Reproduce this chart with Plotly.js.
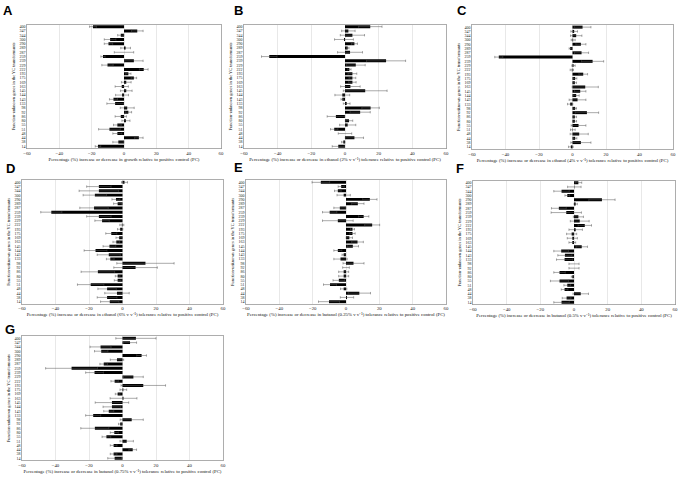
<!DOCTYPE html>
<html>
<head>
<meta charset="utf-8">
<script src="https://cdn.plot.ly/plotly-3.0.1.min.js"></script>
<style>
  html, body { margin: 0; padding: 0; background: #fff; }
  #plot { width: 683px; height: 479px; }
</style>
</head>
<body>
<div id="plot"></div>
<script>
// transformant ids, top to bottom
const categories = ['400','347','344','300','290','289','287','259','239','229','222','193','175','169','163','145','144','143','133','98','92','86','80','55','51','48','44','38','14'];

// A: growth
const valsA = [-19.2, 8.2, -2, -8.6, -9.6, 1, 0, -13, 6.1, -10.2, 12.2, 2.7, 6.1, 1.4, -1.4, 1.4, -1.2, -6.5, -5.5, 2, 2.7, -2, 1.2, -4.1, -9, -4.1, 9.2, -3.5, -16.1];
const errA  = [2.1, 3.6, 1.9, 3.6, 2.6, 3, 6, 1.3, 5.7, 3.5, 2.7, 1.6, 1.7, 3, 4.1, 3.6, 4, 2.5, 5.1, 4.3, 2, 3.5, 2.5, 2.4, 6.7, 2.8, 2.6, 3.4, 1.7];
// B: ethanol 2%
const valsB = [15, 2, 4.4, -0.6, 5.6, 1.6, 3, -45, 24.4, 6.4, 2.6, 4.4, 4.4, 4.4, 3.2, 12, -1.6, -1.6, 1, 15.2, 9, -5.4, 2.4, 1.6, -6.4, 0, 5.6, -1, -4];
const errB  = [7, 4, 7.2, 5.6, 1.8, 0.8, 7.4, 4.6, 11.6, 5.6, 1, 2.6, 2, 2.2, 5.8, 13, 4.4, 0.8, 2, 5.2, 6, 5.2, 2.2, 4.8, 2.2, 4, 5.4, 1, 3.6];
// C: ethanol 4%
const valsC = [6, 1, 2.2, 0.4, 5, -1.4, 5.4, -44, 12, 0.6, -0.4, 6.4, 1.6, 1.4, 7.6, 4.6, 2.2, 3, -1.4, 1.6, 8.6, 1.4, 1.4, 3.6, 0.2, 4, 1.6, 5, -1];
const errC  = [5, 2, 3.4, 1.2, 3, 0.6, 4.2, 2.4, 6.6, 1, 1, 2.6, 1, 1, 7.8, 3.4, 1.8, 5, 1.6, 0.8, 7, 1, 1, 4.4, 1.4, 5.4, 1, 6, 1.4];
// D: ethanol 6%
const valsD = [1.2, -14.1, -14.1, -16.5, -3.9, -2.9, -17, -42.5, -14.1, -12.2, -0.4, -1.4, -6.7, -2, -3.7, -7.8, -16.1, -8.2, -7.3, 13.7, 7.8, -14.7, -2.9, -2.9, -19, -9.2, -3.3, -9.2, -7.6];
const errD  = [1.8, 7.3, 11.8, 7, 2.4, 2.4, 8.5, 6.3, 7.3, 4.3, 1.2, 1.6, 3.3, 1.9, 2, 3.8, 6.8, 6.9, 2.3, 17.1, 13, 10, 1.4, 2, 7.9, 5.5, 7.3, 5.9, 5.5];
// E: butanol 0.25%
const valsE = [-15.1, -2.9, -4.9, -1.4, 14.3, 7.1, -3.7, -9.8, 10.6, -4.9, 15.7, 3.9, 3.9, 2, 6.9, 4.1, -4.9, -1.4, -3.3, 4.5, 0, -1.4, -1.4, -4.3, -9.6, -1.4, 8, 0.6, -10.2];
const errE  = [5.3, 1.8, 2, 4, 4.3, 3.7, 3.6, 4.3, 3.1, 9.2, 4.5, 1.2, 1.6, 1.9, 3.5, 3.4, 2.4, 1, 4, 6.3, 2, 3, 3, 3.5, 3.9, 1.9, 6.7, 4, 6.3];
// F: butanol 0.5%
const valsF = [2.6, 0.2, -7.4, -4, 16.6, 1, -9, -4.6, 2.6, 3.4, 6.4, 1, -1.4, -1, -1, 4.6, -7.6, -5.4, -5.6, 0, 0, -8.6, -1, -8.6, -4, -5.6, 4, -4.4, -7.4];
const errF  = [2, 4, 4.6, 1.4, 7.8, 1, 4.4, 9, 3, 5.6, 4, 4, 3, 3, 2, 3.4, 4.4, 4.2, 4.8, 3, 3, 3.4, 0.6, 5.4, 2, 2, 4.6, 2.6, 4.6];
// G: butanol 0.75%
const valsG = [8, 4.5, -13.1, -12.7, 11.4, -3.3, -11.2, -30.4, -16.7, 6.5, -4.7, 12.4, 0.5, -2.9, 0.6, -6.3, -6.3, -8.2, -17.5, 5.5, -1.4, -16.5, -4.9, -9.6, 2.5, -5.3, 6.1, -5.3, -4.7];
const errG  = [12, 3.9, 6.3, 4, 2.9, 4, 2.3, 15.5, 5.3, 5.9, 2.2, 13.3, 2, 1.4, 8, 10, 5.3, 3, 4.5, 6.9, 1, 8.4, 2.4, 2.6, 4, 2, 2.3, 2, 4.1];

const panelLetters = ['A', 'B', 'C', 'D', 'E', 'F', 'G'];
const xTitles = [
  'Percentage (%) increase or decrease in growth relative to positive control (PC)',
  'Percentage (%) increase or decrease in ethanol (2% v v⁻¹) tolerance relative to positive control (PC)',
  'Percentage (%) increase or decrease in ethanol (4% v v⁻¹) tolerance relative to positive control (PC)',
  'Percentage (%) increase or decrease in ethanol (6% v v⁻¹) tolerance relative to positive control (PC)',
  'Percentage (%) increase or decrease in butanol (0.25% v v⁻¹) tolerance relative to positive control (PC)',
  'Percentage (%) increase or decrease in butanol (0.5% v v⁻¹) tolerance relative to positive control (PC)',
  'Percentage (%) increase or decrease in butanol (0.75% v v⁻¹) tolerance relative to positive control (PC)'
];
const yTitle = 'Function-unknown genes in the YC transformants';

const series = [[valsA, errA], [valsB, errB], [valsC, errC], [valsD, errD], [valsE, errE], [valsF, errF], [valsG, errG]];

// plot boxes in pixels: [left, right, top, bottom]
const W = 683, H = 479;
const boxes = [
  [27, 221, 24.5, 148.5], [244, 446, 24.5, 148.5], [472, 673, 25, 149],
  [22, 223, 180.2, 303.8], [246, 446, 180.2, 303.8], [473, 675, 180.5, 304.5],
  [22, 223, 336.2, 460.4]
];
const letterPos = [[8, 10], [238, 10], [462, 10], [10, 168], [238, 167], [460, 168], [10, 329]];

const serif = 'Liberation Serif, Times New Roman, serif';
const data = [];
const layout = {
  width: W, height: H,
  margin: { l: 0, r: 0, t: 0, b: 0 },
  paper_bgcolor: '#fff', plot_bgcolor: '#fff',
  showlegend: false,
  bargap: 0.3,
  annotations: []
};

series.forEach((s, i) => {
  const n = i === 0 ? '' : String(i + 1);
  data.push({
    type: 'bar', orientation: 'h',
    x: s[0], y: categories,
    xaxis: 'x' + n, yaxis: 'y' + n,
    marker: { color: '#000' },
    error_x: { type: 'data', array: s[1], visible: true, color: '#555', thickness: 0.5, width: 1.2 }
  });
  const b = boxes[i];
  layout['xaxis' + n] = {
    domain: [b[0] / W, b[1] / W],
    anchor: 'y' + n,
    range: [-60, 60], dtick: 20, tick0: 0,
    showgrid: true, gridcolor: '#d9d9d9', gridwidth: 0.6,
    zeroline: false,
    showline: true, mirror: true, linecolor: '#999', linewidth: 0.8,
    ticks: '', tickfont: { family: serif, size: 4.8, color: '#222' },
    title: { text: xTitles[i], font: { family: serif, size: 4.8, color: '#111' }, standoff: 2 }
  };
  layout['yaxis' + n] = {
    domain: [1 - b[3] / H, 1 - b[2] / H],
    anchor: 'x' + n,
    type: 'category', autorange: 'reversed',
    tickmode: 'array', tickvals: categories, ticktext: categories,
    showgrid: false, zeroline: false,
    showline: true, mirror: true, linecolor: '#999', linewidth: 0.8,
    ticks: '', tickfont: { family: serif, size: 4, color: '#222' },
    title: { text: yTitle, font: { family: serif, size: 4.4, color: '#111' }, standoff: 3 }
  };
  layout.annotations.push({
    text: panelLetters[i], xref: 'paper', yref: 'paper',
    x: letterPos[i][0] / W, y: 1 - letterPos[i][1] / H,
    xanchor: 'center', yanchor: 'middle', showarrow: false,
    font: { family: 'Liberation Sans, Arial, sans-serif', size: 13, color: '#000', weight: 'bold' }
  });
});

Plotly.newPlot('plot', data, layout, { staticPlot: true });
</script>
</body>
</html>
